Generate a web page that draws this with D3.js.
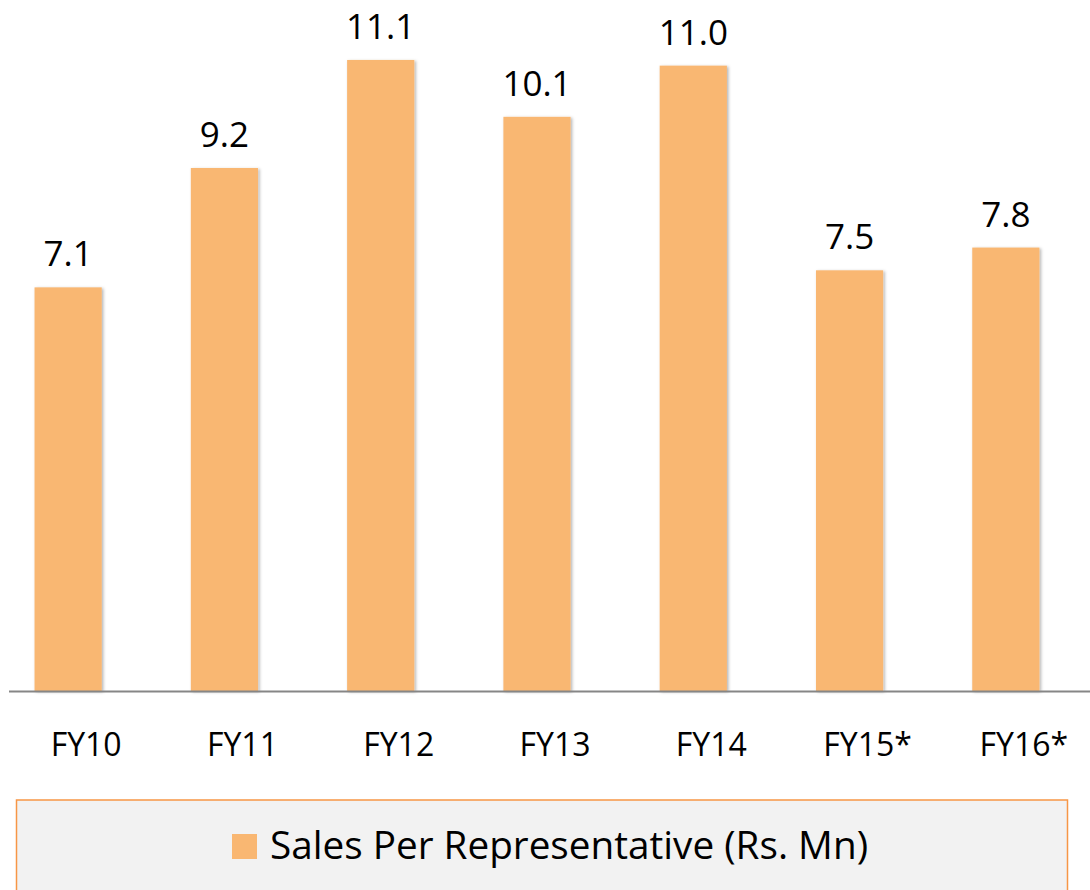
<!DOCTYPE html>
<html>
<head>
<meta charset="utf-8">
<script src="https://cdn.jsdelivr.net/npm/d3@7"></script>
<style>
  body { margin: 0; background: #fff; }
  text { font-family: "Open Sans", "Noto Sans", sans-serif; fill: #000; }
</style>
</head>
<body>
<div id="chart"></div>
<script>
// data (bar heights, labels as printed)
const years = ["FY10", "FY11", "FY12", "FY13", "FY14", "FY15*", "FY16*"];
const salesPerRep = [7.1, 9.2, 11.1, 10.1, 11.0, 7.4, 7.8];
const valueLabels = ["7.1", "9.2", "11.1", "10.1", "11.0", "7.5", "7.8"];
const seriesName = "Sales Per Representative (Rs. Mn)";

const width = 1090, height = 890;
const baseY = 691;

const svg = d3.select("#chart")
  .append("svg")
    .attr("width", width)
    .attr("height", height);

// subtle shadow for bars
const defs = svg.append("defs");
const f = defs.append("filter").attr("id", "shadow")
  .attr("x", "-20%").attr("y", "-5%").attr("width", "140%").attr("height", "110%");
f.append("feDropShadow")
  .attr("dx", 1.5).attr("dy", 1).attr("stdDeviation", 1.5)
  .attr("flood-color", "#000").attr("flood-opacity", 0.3);

// X axis
const x = d3.scaleBand()
  .domain(years)
  .range([-10, 1084])
  .paddingInner(0.57)
  .paddingOuter(0.285);

// Y axis
const y = d3.scaleLinear()
  .domain([0, 12])
  .range([baseY, baseY - 12 * 56.85]);

// Bars
svg.selectAll("rect.bar")
  .data(salesPerRep)
  .join("rect")
    .attr("class", "bar")
    .attr("x", (d, i) => x(years[i]))
    .attr("y", d => y(d))
    .attr("width", x.bandwidth())
    .attr("height", d => baseY - y(d))
    .attr("fill", "#F9B772")
    .attr("filter", "url(#shadow)");

// value labels
svg.selectAll("text.val")
  .data(salesPerRep)
  .join("text")
    .attr("class", "val")
    .attr("x", (d, i) => x(years[i]) + x.bandwidth() / 2)
    .attr("y", d => y(d) - 21)
    .attr("text-anchor", "middle")
    .style("font-size", "35px")
    .text((d, i) => valueLabels[i]);

// baseline
svg.append("line")
  .attr("x1", 9).attr("x2", width)
  .attr("y1", baseY + 0.5).attr("y2", baseY + 0.5)
  .attr("stroke", "#868686")
  .attr("stroke-width", 2);

// category labels
const xAxis = svg.append("g")
  .attr("transform", `translate(18, ${baseY})`)
  .call(d3.axisBottom(x).tickSize(0).tickPadding(0));
xAxis.select(".domain").remove();
xAxis.selectAll("text")
  .attr("y", 65)
  .attr("dy", 0)
  .style("font-size", "32px")
  .style("font-family", "\"Open Sans\", \"Noto Sans\", sans-serif")
  .attr("fill", "#000");

// legend
svg.append("rect")
  .attr("x", 16.5).attr("y", 800)
  .attr("width", 1051).attr("height", 100)
  .attr("fill", "#F2F2F2")
  .attr("stroke", "#F79646")
  .attr("stroke-width", 1.5);
svg.append("rect")
  .attr("x", 232).attr("y", 834)
  .attr("width", 25).attr("height", 25)
  .attr("fill", "#F9B772");
svg.append("text")
  .attr("x", 270).attr("y", 859)
  .style("font-size", "38.7px")
  .text(seriesName);
</script>
</body>
</html>
